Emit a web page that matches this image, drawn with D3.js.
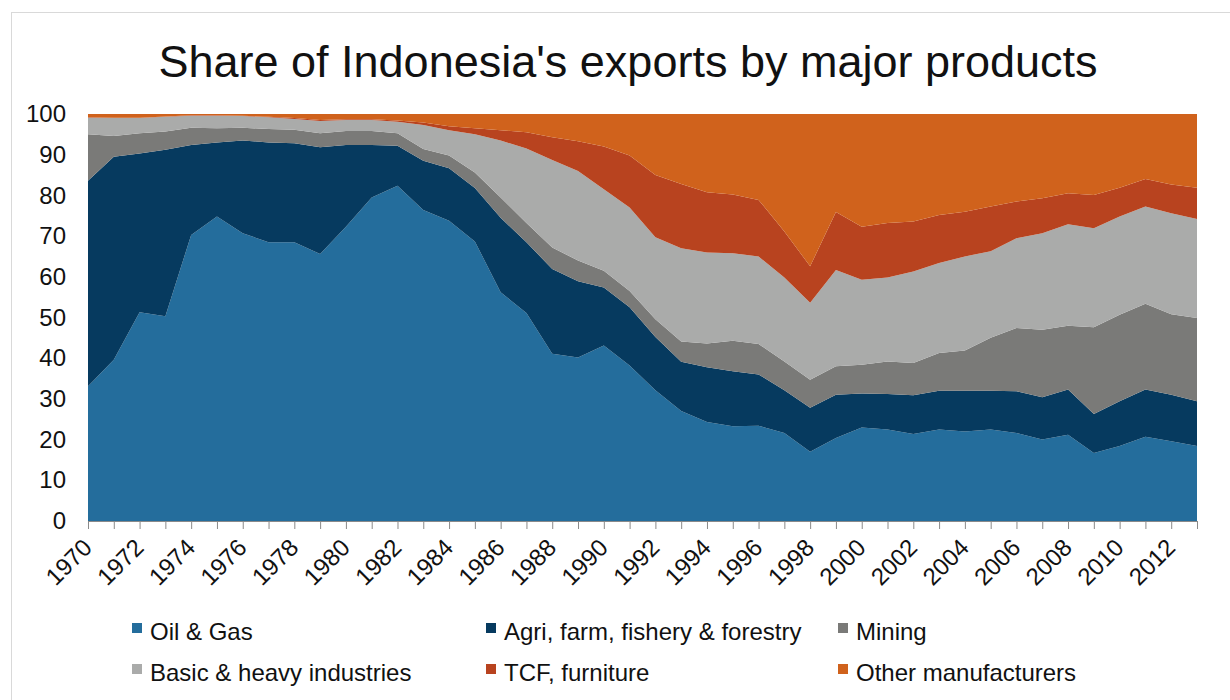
<!DOCTYPE html>
<html>
<head>
<meta charset="utf-8">
<script src="https://cdn.jsdelivr.net/npm/d3@7"></script>
<style>
  body { margin: 0; background: #fff; }
  text { font-family: "Liberation Sans", Arial, sans-serif; }
</style>
</head>
<body>
<script>
const years = d3.range(1970, 2014)

// shares in percent
const oilGas = [33.1, 39.6, 51.3, 50.3, 70.3, 74.8, 70.7, 68.5, 68.5, 65.6, 72.3, 79.5, 82.4, 76.4, 73.8, 68.7, 56.2, 51.1, 41.1, 40.2, 43.1, 38.2, 32.1, 27.0, 24.3, 23.3, 23.4, 21.6, 17.0, 20.4, 23.0, 22.5, 21.4, 22.5, 22.0, 22.5, 21.6, 20.0, 21.2, 16.7, 18.4, 20.7, 19.6, 18.4]
const agri = [50.5, 49.9, 39.0, 40.9, 22.1, 18.2, 22.8, 24.5, 24.3, 26.2, 20.1, 12.9, 9.8, 12.1, 12.9, 13.1, 18.3, 17.4, 20.8, 18.7, 14.3, 14.3, 13.1, 12.1, 13.5, 13.5, 12.6, 10.5, 10.8, 10.6, 8.3, 8.7, 9.5, 9.5, 10.0, 9.5, 10.3, 10.4, 11.1, 9.6, 11.0, 11.6, 11.4, 11.0]
const mining = [11.4, 5.1, 5.0, 4.5, 4.2, 3.5, 3.1, 3.3, 3.3, 3.5, 3.4, 3.4, 3.1, 2.9, 3.1, 3.8, 5.0, 4.7, 5.3, 5.1, 4.1, 4.0, 4.4, 5.0, 5.8, 7.5, 7.5, 7.1, 6.9, 7.0, 7.1, 8.0, 7.9, 9.3, 9.9, 13.0, 15.5, 16.6, 15.7, 21.3, 21.3, 21.1, 19.8, 20.5]
const basic = [4.1, 4.4, 3.7, 3.6, 3.0, 3.1, 2.9, 2.9, 2.7, 3.0, 2.7, 2.7, 2.8, 5.9, 6.2, 9.4, 14.0, 18.3, 21.5, 22.0, 20.0, 20.5, 20.1, 22.9, 22.4, 21.5, 21.5, 20.6, 18.9, 23.7, 20.9, 20.6, 22.5, 22.1, 23.1, 21.3, 22.1, 23.7, 24.9, 24.3, 24.1, 23.9, 24.8, 24.3]
const tcf = [0.1, 0.1, 0.1, 0.1, 0.1, 0.1, 0.1, 0.1, 0.2, 0.2, 0.2, 0.2, 0.3, 0.6, 1.0, 1.5, 2.5, 4.0, 5.6, 7.3, 10.5, 12.8, 15.3, 15.8, 14.8, 14.4, 13.9, 11.3, 9.0, 14.2, 13.0, 13.4, 12.3, 11.8, 11.0, 11.0, 9.0, 8.6, 7.6, 8.2, 7.1, 6.7, 7.1, 7.7]
const otherMfg = [0.8, 0.9, 0.9, 0.6, 0.3, 0.3, 0.4, 0.7, 1.0, 1.5, 1.3, 1.3, 1.6, 2.1, 3.0, 3.5, 4.0, 4.5, 5.7, 6.7, 8.0, 10.2, 15.0, 17.2, 19.2, 19.8, 21.1, 28.9, 37.4, 24.1, 27.7, 26.8, 26.4, 24.8, 24.0, 22.7, 21.5, 20.7, 19.5, 19.9, 18.1, 16.0, 17.3, 18.1]

const seriesNames = ["Oil & Gas", "Agri, farm, fishery & forestry", "Mining", "Basic & heavy industries", "TCF, furniture", "Other manufacturers"]
const seriesValues = [oilGas, agri, mining, basic, tcf, otherMfg]
const colors = ["#246d9c", "#063a5f", "#7a7a78", "#aaabaa", "#b8431f", "#d0621c"]
const yTicks = d3.range(0, 101, 10)

const W = 1230, H = 700
const margin = { left: 88, right: 33, top: 114, bottom: 179 }

const svg = d3.select("body").append("svg")
  .attr("width", W)
  .attr("height", H)

// chart border
svg.append("rect")
  .attr("x", 11.5).attr("y", 12.5)
  .attr("width", W).attr("height", H)
  .attr("fill", "none")
  .attr("stroke", "#d9d9d9")

svg.append("text")
  .attr("x", 628).attr("y", 77)
  .attr("text-anchor", "middle")
  .attr("font-size", 45)
  .attr("fill", "#111")
  .text("Share of Indonesia's exports by major products")

const x = d3.scaleLinear()
  .domain([1970, 2013])
  .range([margin.left, W - margin.right])

const y = d3.scaleLinear()
  .domain([0, 100])
  .range([H - margin.bottom, margin.top])

const table = years.map((yr, i) => {
  const row = { year: yr }
  seriesNames.forEach((n, j) => { row[n] = seriesValues[j][i] })
  return row
})

const stacked = d3.stack().keys(seriesNames)(table)

const area = d3.area()
  .x(d => x(d.data.year))
  .y0(d => y(d[0]))
  .y1(d => y(d[1]))

svg.append("g")
  .selectAll("path")
  .data(stacked)
  .join("path")
  .attr("fill", (d, i) => colors[i])
  .attr("d", area)

// y axis labels
const yAxis = svg.append("g")
  .attr("transform", `translate(${margin.left},0)`)
  .call(d3.axisLeft(y).tickValues(yTicks).tickSize(0).tickPadding(22))
yAxis.select(".domain").remove()
yAxis.selectAll("text")
  .attr("font-size", 24)
  .attr("fill", "#111")
  .style("font-family", "Liberation Sans, Arial, sans-serif")

// x axis
const xAxis = svg.append("g")
  .attr("transform", `translate(0,${H - margin.bottom})`)
  .call(d3.axisBottom(x).tickValues(years).tickSize(8)
    .tickFormat(d => (d % 2 === 0 ? d : "")))
xAxis.select(".domain").attr("stroke", "#8a8a8a")
xAxis.selectAll(".tick line").attr("stroke", "#8a8a8a")
xAxis.selectAll("text")
  .attr("font-size", 24)
  .attr("fill", "#111")
  .style("font-family", "Liberation Sans, Arial, sans-serif")
  .attr("text-anchor", "end")
  .attr("dy", 0)
  .attr("y", 0)
  .attr("transform", "translate(5,28) rotate(-45)")

// legend
const legendPos = [
  [132, 632], [486, 632], [838, 632],
  [132, 673], [486, 673], [838, 673]
]
const legend = svg.append("g")
  .selectAll("g")
  .data(seriesNames)
  .join("g")
  .attr("transform", (d, i) => `translate(${legendPos[i][0]},${legendPos[i][1]})`)

legend.append("rect")
  .attr("x", 0).attr("y", -9)
  .attr("width", 10).attr("height", 10)
  .attr("fill", (d, i) => colors[i])

legend.append("text")
  .attr("x", 18).attr("y", 0)
  .attr("dy", "0.35em")
  .attr("font-size", 24)
  .attr("fill", "#111")
  .text(d => d)
</script>
</body>
</html>
